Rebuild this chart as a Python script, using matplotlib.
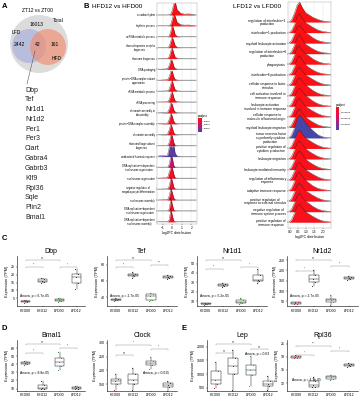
import numpy as np
import matplotlib
matplotlib.use("Agg")
import matplotlib.pyplot as plt
from matplotlib.patches import Circle
from matplotlib.colors import LinearSegmentedColormap, Normalize
from matplotlib.cm import ScalarMappable
import matplotlib.transforms as mtransforms

plt.rcParams['font.family'] = ['Liberation Sans', 'DejaVu Sans']

W, H = 363, 400

# ---------------- data ----------------
# Venn counts (ZT12 vs ZT00)
venn_total = 16013
venn_lfd_only = 2442
venn_both = 42
venn_hfd_only = 161
shared_genes = ["Dbp", "Tef", "Nr1d1", "Nr1d2", "Per1", "Per3", "Ciart", "Gabra4",
                "Gabrb3", "Klf9", "Rpl36", "Sqle", "Plin2", "Bmal1"]

# ridge plot HFD12 vs HFD00
hfd_terms = ["circadian rhythm", "rhythmic process", "ncRNA metabolic process",
             "ribonucleoprotein complex\nbiogenesis", "ribosome biogenesis", "DNA packaging",
             "protein\u2212DNA complex subunit\norganization", "rRNA metabolic process",
             "rRNA processing", "chromatin assembly or\ndisassembly",
             "protein\u2212DNA complex assembly", "chromatin assembly",
             "ribosomal large subunit\nbiogenesis", "antibacterial humoral response",
             "DNA replication\u2212independent\nnucleosome organization",
             "nucleosome organization", "negative regulation of\nmegakaryocyte differentiation",
             "nucleosome assembly", "DNA replication\u2212dependent\nnucleosome organization",
             "DNA replication\u2212dependent\nnucleosome assembly"]
hfd_padj = [0.2e-4, 0.2e-4, 0.3e-4, 0.3e-4, 0.3e-4, 0.4e-4, 0.4e-4, 0.4e-4, 0.4e-4, 0.5e-4,
            0.5e-4, 0.5e-4, 0.9e-4, 3.6e-4, 2.2e-4, 0.6e-4, 0.7e-4, 0.6e-4, 0.6e-4, 0.6e-4]
hfd_x = [-1.5, -0.5, -0.3, -0.15, 0.0, 0.15, 0.3, 0.5, 0.9, 1.3, 1.7, 2.1, 2.5]
hfd_dens = [
    [0, 0, 0.02, 0.1, 0.4, 1.0, 1.25, 0.5, 0.15, 0.08, 0.1, 0.06, 0],
    [0, 0, 0.03, 0.15, 0.6, 1.1, 0.9, 0.35, 0.1, 0.07, 0.08, 0.05, 0],
    [0, 0, 0.1, 0.5, 1.1, 0.7, 0.2, 0.05, 0, 0, 0, 0, 0],
    [0, 0, 0.15, 0.6, 1.0, 0.6, 0.2, 0.05, 0, 0, 0, 0, 0],
    [0, 0.02, 0.2, 0.7, 1.0, 0.5, 0.15, 0.03, 0, 0, 0, 0, 0],
    [0, 0.05, 0.4, 0.9, 0.8, 0.3, 0.1, 0.02, 0, 0, 0, 0, 0],
    [0, 0.05, 0.35, 0.85, 0.85, 0.35, 0.1, 0.02, 0, 0, 0, 0, 0],
    [0, 0.02, 0.2, 0.7, 1.0, 0.5, 0.15, 0.03, 0, 0, 0, 0, 0],
    [0, 0.02, 0.25, 0.75, 1.0, 0.45, 0.12, 0.03, 0, 0, 0, 0, 0],
    [0, 0.05, 0.4, 0.95, 0.8, 0.3, 0.1, 0.02, 0, 0, 0, 0, 0],
    [0, 0.05, 0.45, 1.0, 0.7, 0.25, 0.08, 0.02, 0, 0, 0, 0, 0],
    [0, 0.05, 0.5, 1.0, 0.65, 0.2, 0.06, 0.02, 0, 0, 0, 0, 0],
    [0, 0, 0.3, 1.0, 0.9, 0.3, 0.05, 0, 0, 0, 0, 0, 0],
    [0.05, 0.1, 0.9, 1.0, 0.8, 1.1, 0.3, 0.05, 0, 0, 0, 0, 0],
    [0, 0, 0.3, 1.1, 0.9, 0.2, 0.03, 0, 0, 0, 0, 0, 0],
    [0, 0.05, 0.6, 1.0, 1.0, 0.4, 0.05, 0, 0, 0, 0, 0, 0],
    [0, 0.02, 0.3, 1.1, 0.8, 0.2, 0.03, 0, 0, 0, 0, 0, 0],
    [0, 0.03, 0.4, 1.1, 0.7, 0.2, 0.03, 0, 0, 0, 0, 0, 0],
    [0, 0, 0.2, 1.2, 0.6, 0.1, 0.02, 0, 0, 0, 0, 0, 0],
    [0, 0, 0.2, 1.2, 0.6, 0.1, 0.02, 0, 0, 0, 0, 0, 0],
]

# ridge plot LFD12 vs LFD00
lfd_terms = ["regulation of interleukin\u22121\nproduction", "interleukin\u22121 production",
             "myeloid leukocyte activation", "regulation of interleukin\u22126\nproduction",
             "phagocytosis", "interleukin\u22126 production", "cellular response to biotic\nstimulus",
             "cell activation involved in\nimmune response",
             "leukocyte activation\ninvolved in immune response",
             "cellular response to\nmolecule of bacterial origin", "myeloid leukocyte migration",
             "tumor necrosis factor\nsuperfamily cytokine\nproduction",
             "positive regulation of\ncytokine production", "leukocyte migration",
             "leukocyte mediated immunity", "regulation of inflammatory\nresponse",
             "adaptive immune response", "positive regulation of\nresponse to external stimulus",
             "negative regulation of\nimmune system process",
             "positive regulation of\nimmune response"]
lfd_padj = [0.3e-5, 0.3e-5, 0.3e-5, 0.4e-5, 0.4e-5, 0.4e-5, 0.4e-5, 0.5e-5, 0.5e-5, 0.5e-5,
            0.6e-5, 9.5e-5, 0.6e-5, 0.6e-5, 0.7e-5, 0.7e-5, 0.7e-5, 0.8e-5, 0.8e-5, 0.8e-5]
lfd_x = [-0.05, 0.1, 0.3, 0.45, 0.6, 0.75, 0.95, 1.15, 1.4, 1.7, 2.0, 2.3, 2.5]
lfd_dens = [
    [0, 0.15, 0.9, 1.6, 1.9, 1.4, 0.9, 0.7, 0.45, 0.25, 0.1, 0.04, 0],
    [0, 0.15, 0.8, 1.5, 1.8, 1.35, 0.95, 0.75, 0.5, 0.25, 0.1, 0.04, 0],
    [0, 0.2, 0.9, 1.5, 1.7, 1.4, 1.0, 0.8, 0.5, 0.25, 0.12, 0.05, 0],
    [0, 0.15, 0.85, 1.5, 1.8, 1.4, 0.9, 0.7, 0.45, 0.22, 0.1, 0.04, 0],
    [0, 0.2, 0.9, 1.6, 1.7, 1.3, 1.0, 0.8, 0.5, 0.25, 0.1, 0.04, 0],
    [0, 0.15, 0.8, 1.5, 1.8, 1.4, 0.95, 0.7, 0.45, 0.22, 0.1, 0.04, 0],
    [0, 0.2, 0.9, 1.5, 1.7, 1.4, 1.0, 0.8, 0.55, 0.3, 0.12, 0.05, 0],
    [0, 0.2, 0.9, 1.5, 1.7, 1.45, 1.05, 0.8, 0.5, 0.25, 0.1, 0.04, 0],
    [0, 0.2, 0.9, 1.5, 1.7, 1.45, 1.05, 0.8, 0.5, 0.25, 0.1, 0.04, 0],
    [0, 0.2, 0.9, 1.55, 1.75, 1.4, 1.0, 0.8, 0.55, 0.3, 0.12, 0.05, 0],
    [0, 0.2, 0.85, 1.5, 1.75, 1.4, 1.0, 0.75, 0.5, 0.25, 0.1, 0.04, 0],
    [0, 0.25, 1.0, 1.8, 2.2, 1.9, 1.5, 1.1, 0.7, 0.3, 0.1, 0.02, 0],
    [0, 0.2, 0.9, 1.5, 1.75, 1.4, 1.0, 0.8, 0.55, 0.3, 0.12, 0.05, 0],
    [0, 0.2, 0.9, 1.5, 1.7, 1.4, 1.0, 0.75, 0.5, 0.25, 0.1, 0.04, 0],
    [0, 0.2, 0.9, 1.55, 1.75, 1.45, 1.0, 0.75, 0.5, 0.25, 0.1, 0.04, 0],
    [0, 0.2, 0.9, 1.5, 1.7, 1.4, 1.0, 0.8, 0.55, 0.3, 0.12, 0.05, 0],
    [0, 0.2, 0.9, 1.6, 1.75, 1.4, 1.0, 0.75, 0.45, 0.22, 0.1, 0.04, 0],
    [0, 0.2, 0.9, 1.5, 1.7, 1.4, 1.0, 0.8, 0.55, 0.3, 0.12, 0.05, 0],
    [0, 0.2, 0.9, 1.5, 1.75, 1.4, 1.0, 0.8, 0.5, 0.25, 0.1, 0.04, 0],
    [0, 0.2, 0.9, 1.5, 1.7, 1.4, 1.0, 0.8, 0.55, 0.3, 0.12, 0.05, 0],
]

# box plots: [lower whisker, q1, median, q3, upper whisker] per group
groups = ["HFD00", "HFD12", "LFD00", "LFD12"]
dbp_box = [[2.2, 2.6, 3.0, 3.3, 3.8], [14.5, 15.5, 16.2, 17.0, 18.0],
           [2.8, 3.2, 3.8, 4.4, 5.0], [11, 14.5, 18.5, 20.5, 24]]
tef_box = [[35, 36, 37, 38, 39.5], [64, 66, 67, 68.5, 71],
           [35, 37, 41, 44, 45], [62, 64, 65.5, 66.5, 67.5]]
nr1d1_box = [[6.5, 7, 7.5, 8, 8.5], [25, 26, 27, 27.8, 29],
             [7.5, 8.5, 9.5, 11.5, 13], [29, 31, 33, 38, 44]]
nr1d2_box = [[38, 40, 43, 46, 48], [125, 145, 160, 180, 200],
             [35, 45, 55, 62, 80], [155, 160, 163, 168, 175]]
bmal1_box = [[39.5, 40.5, 41.5, 42.5, 44], [9, 10, 11, 15, 19],
             [33, 38, 43, 48, 55], [9, 10, 11, 12, 13.5]]
clock_box = [[130, 150, 160, 170, 185], [130, 150, 165, 185, 210],
             [205, 220, 225, 235, 250], [125, 140, 148, 155, 162]]
lep_box = [[480, 650, 800, 1100, 1450], [400, 1000, 1300, 1600, 1900],
           [580, 950, 1150, 1350, 1650], [430, 550, 620, 750, 920]]
rpl36_box = [[17.6, 17.8, 18.0, 18.2, 18.4], [11.0, 11.2, 11.5, 12.4, 13.3],
             [12.8, 13.0, 13.3, 13.6, 13.9], [15.7, 15.9, 16.1, 16.3, 16.5]]

# significance for (HFD00-HFD12, LFD00-LFD12, HFD00-LFD00)
dbp_sig = ["**", "*", "ns"]
tef_sig = ["**", "***", "ns"]
nr1d1_sig = ["**", "*", "ns"]
nr1d2_sig = ["*", "**", "ns"]
bmal1_sig = ["**", "**", "ns"]
clock_sig = ["ns", "**", "*"]
lep_sig = ["ns", "ns", "ns"]
rpl36_sig = ["*", "**", "***"]

dbp_p, tef_p, nr1d1_p, nr1d2_p = "6.7e-05", "2.7e-05", "5.2e-05", "2.7e-05"
bmal1_p, clock_p, lep_p, rpl36_p = "8.8e-05", "0.015", "0.63", "4.3e-05"

# ---------------- figure ----------------
fig = plt.figure(figsize=(W / 100, H / 100), dpi=100)


def px_axes(x0, y0, x1, y1):
    return fig.add_axes([x0 / W, 1 - y1 / H, (x1 - x0) / W, (y1 - y0) / H])


ov = fig.add_axes([0, 0, 1, 1])
ov.set_xlim(0, W)
ov.set_ylim(H, 0)
ov.axis('off')

# panel letters
for lab, (x, y) in zip("ABCDE", [(2, 6), (84, 6), (2, 238), (2, 328), (181, 328)]):
    ov.text(x, y, lab, fontsize=5.5, fontweight='bold', va='center', ha='left')

# ---- A: Venn ----
ov.text(38, 11, "ZT12 vs ZT00", fontsize=3.6, ha='center', va='center')
ov.add_patch(Circle((39, 44), 29, facecolor='#dcdcdc', edgecolor='none'))
ov.add_patch(Circle((29, 46), 17, facecolor='#b4badb', edgecolor='none', alpha=0.9))
ov.add_patch(Circle((48, 47), 18, facecolor='#f28c6e', edgecolor='none', alpha=0.65))
ov.text(37, 24, str(venn_total), fontsize=3.6, ha='center', va='center')
ov.text(58, 20, "Total", fontsize=3.6, ha='center', va='center')
ov.text(16, 33, "LFD", fontsize=3.6, ha='center', va='center')
ov.text(57, 58, "HFD", fontsize=3.6, ha='center', va='center')
ov.text(19, 45, str(venn_lfd_only), fontsize=3.6, ha='center', va='center')
ov.text(38, 45, str(venn_both), fontsize=3.6, ha='center', va='center')
ov.text(55, 45, str(venn_hfd_only), fontsize=3.6, ha='center', va='center')
ov.plot([35, 27], [51, 84], color='#555555', lw=0.4)
for i, g in enumerate(shared_genes):
    ov.text(25, 90 + i * 9.8, g, fontsize=5, ha='left', va='center', color='#222222')

# ---- B: ridge plots ----
cmap_r = LinearSegmentedColormap.from_list("padj", ["#ff1010", "#d0106a", "#3a4bb0"])


def ridges(rect, xs, dens, terms, padj, vmin, vmax, xlim, xticks, xticklabels, scale,
           ylim, labsize, title, title_xy, cbar_rect, cbar_ticks, cbar_labels):
    ax = px_axes(*rect)
    norm = Normalize(vmin, vmax)
    n = len(dens)
    for i, (d, p) in enumerate(zip(dens, padj)):
        base = n - i
        top = base + np.array(d) * scale
        ax.axhline(base, color='#b0b0b0', lw=0.3, zorder=0.5)
        ax.fill_between(xs, base, top, color=cmap_r(norm(p)), lw=0, zorder=1 + i)
        ax.plot(xs, top, color='#202020', lw=0.25, zorder=1 + i)
    ax.set_xlim(*xlim)
    ax.set_ylim(*ylim)
    ax.set_yticks(np.arange(n, 0, -1))
    ax.set_yticklabels(terms, fontsize=labsize, linespacing=0.95)
    for t in ax.get_yticklabels():
        t.set_multialignment('center')
    ax.set_xticks(xticks)
    ax.set_xticklabels(xticklabels, fontsize=2.3)
    ax.set_xlabel("log2FC distribution", fontsize=2.5, labelpad=0.5)
    ax.tick_params(length=0.8, width=0.3, pad=0.8)
    for x in xticks:
        ax.axvline(x, color='#e0e0e0', lw=0.3, zorder=0.2)
    for s in ax.spines.values():
        s.set_linewidth(0.3)
        s.set_color('#a0a0a0')
    ov.text(title_xy[0], title_xy[1], title, fontsize=4.6, ha='left', va='center')
    cax = px_axes(*cbar_rect)
    cb = fig.colorbar(ScalarMappable(norm=norm, cmap=cmap_r), cax=cax)
    cax.invert_yaxis()
    cb.set_ticks(cbar_ticks)
    cb.set_ticklabels(cbar_labels, fontsize=1.7)
    cb.outline.set_linewidth(0)
    cax.tick_params(length=0.6, width=0.2, pad=0.6)
    cax.set_title("p.adjust", fontsize=2, pad=1, loc='left')
    return ax


ridges((157, 3, 197, 224), hfd_x, hfd_dens, hfd_terms, hfd_padj, 0.1e-4, 4.0e-4,
       (-1.6, 2.6), [-1, 0, 1, 2], ["\u22121", "0", "1", "2"], 1.0, (0.8, 21.1), 1.8,
       "HFD12 vs HFD00", (92, 7), (198, 118, 202, 132),
       [1e-4, 2e-4, 3e-4], ["1e\u221204", "2e\u221204", "3e\u221204"])
ridges((288, 2, 331, 228), lfd_x, lfd_dens, lfd_terms, lfd_padj, 0.1e-5, 1.0e-4,
       (-0.1, 2.5), [0, 0.5, 1, 1.5, 2], ["0.0", "0.5", "1.0", "1.5", "2.0"], 1.0,
       (0.45, 21.9), 2.3, "LFD12 vs LFD00", (233, 7), (336, 107, 339, 130),
       [2.5e-5, 5.0e-5, 7.5e-5], ["2.50e\u221205", "5.00e\u221205", "7.50e\u221205"])

# ---- C, D, E: box plots ----
point_cols = ['#c0202a', '#333333', '#3a9a3a', '#333333']
jit = [-0.1, 0.07, -0.03, 0.1, -0.06]


def boxpanel(rect, title, box, ylim, yticks, sig, sig_y, pval, p_xy):
    ax = px_axes(*rect)
    stats = [dict(whislo=b[0], q1=b[1], med=b[2], q3=b[3], whishi=b[4]) for b in box]
    ax.bxp(stats, positions=[1, 2, 3, 4], widths=0.55, showfliers=False, showcaps=False,
           patch_artist=True,
           boxprops=dict(facecolor='white', edgecolor='#222222', lw=0.35),
           medianprops=dict(color='#222222', lw=0.35),
           whiskerprops=dict(color='#222222', lw=0.35))
    for k, b in enumerate(box):
        ax.scatter(k + 1 + np.array(jit), b, s=0.5, color=point_cols[k], lw=0, zorder=3)
    ax.set_xlim(0.5, 4.5)
    ax.set_ylim(*ylim)
    ax.set_yticks(yticks)
    ax.set_xticks([1, 2, 3, 4])
    ax.set_xticklabels(groups)
    ax.tick_params(labelsize=2.6, length=1.0, width=0.3, pad=0.8)
    for s in ['top', 'right']:
        ax.spines[s].set_visible(False)
    for s in ['left', 'bottom']:
        ax.spines[s].set_linewidth(0.4)
    ax.set_ylabel("Expression (TPM)", fontsize=2.8, labelpad=1)
    ax.set_title(title, fontsize=5, pad=2.5)
    trans = mtransforms.blended_transform_factory(ax.transData, ax.transAxes)
    for (a, b), lab, yy in zip([(1, 2), (3, 4), (1, 3)], sig, sig_y):
        ax.plot([a, a, b, b], [yy - 0.02, yy, yy, yy - 0.02], transform=trans,
                color='#888888', lw=0.3, clip_on=False)
        ax.text((a + b) / 2, yy + 0.005, lab, transform=trans, ha='center', va='bottom',
                fontsize=2.0, color='#555555')
    ax.text(p_xy[0], p_xy[1], "Anova, p = " + pval, transform=ax.transAxes,
            fontsize=2.4, ha='left', va='center')
    return ax


boxpanel((17, 256, 85, 306), "Dbp", dbp_box, (0, 32), [5, 10, 15, 20, 25],
         dbp_sig, [0.78, 0.78, 0.92], dbp_p, (0.04, 0.2))
boxpanel((107, 256, 177, 306), "Tef", tef_box, (29, 91), [40, 60, 80],
         tef_sig, [0.78, 0.82, 0.92], tef_p, (0.04, 0.2))
boxpanel((197, 256, 267, 306), "Nr1d1", nr1d1_box, (5, 58), [10, 20, 30, 40, 50],
         nr1d1_sig, [0.74, 0.78, 0.92], nr1d1_p, (0.04, 0.2))
boxpanel((287, 256, 358, 306), "Nr1d2", nr1d2_box, (28, 270), [50, 100, 150, 200, 250],
         nr1d2_sig, [0.7, 0.8, 0.92], nr1d2_p, (0.04, 0.2))
boxpanel((17, 340, 85, 391), "Bmal1", bmal1_box, (7, 70), [10, 20, 30, 40, 50, 60],
         bmal1_sig, [0.74, 0.84, 0.92], bmal1_p, (0.04, 0.35))
boxpanel((107, 340, 177, 391), "Clock", clock_box, (125, 310), [150, 200, 250, 300],
         clock_sig, [0.7, 0.82, 0.9], clock_p, (0.51, 0.35))
boxpanel((207, 340, 277, 391), "Lep", lep_box, (380, 2250), [500, 1000, 1500, 2000],
         lep_sig, [0.74, 0.82, 0.92], lep_p, (0.54, 0.72))
boxpanel((287, 340, 358, 391), "Rpl36", rpl36_box, (10.2, 21.8), [12, 15, 18, 21],
         rpl36_sig, [0.71, 0.78, 0.88], rpl36_p, (0.07, 0.22))

fig.savefig("out.png", dpi=100)
